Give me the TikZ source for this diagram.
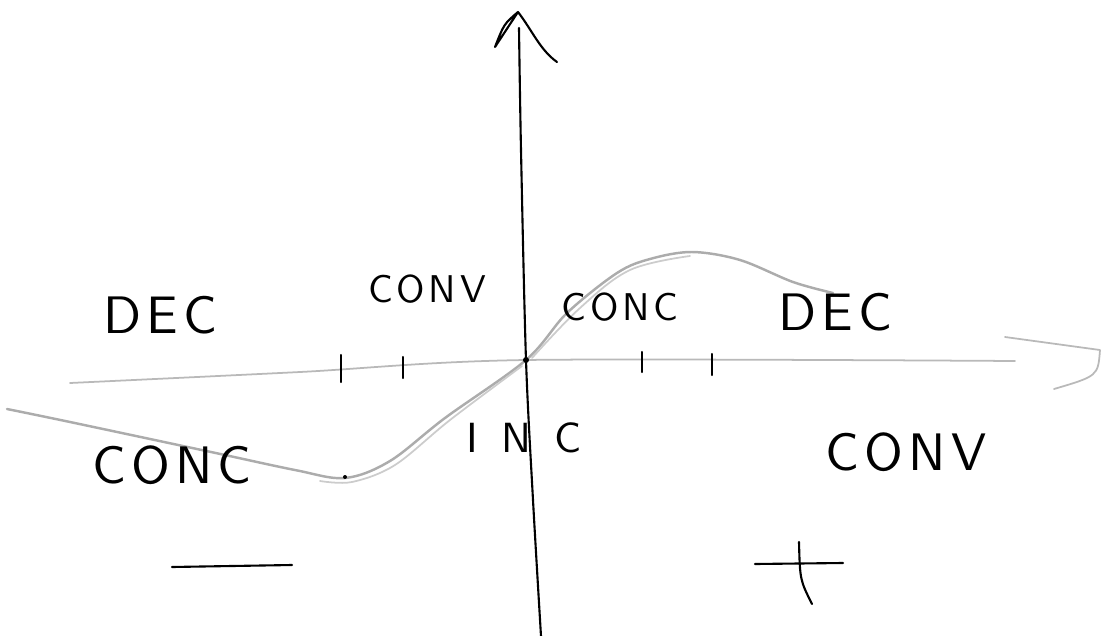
\documentclass[tikz,border=0pt]{standalone}
\usepackage{fontspec}
\newfontfamily\sketchfont{lmsans10-regular.otf}[LetterSpace=10]
\usepackage{tikz}
\usetikzlibrary{calc, positioning}

\begin{document}
\begin{tikzpicture}[x=0.01cm, y=-0.01cm,
	pen/.style={line width=0.6pt, line cap=round, line join=round},
	faint/.style={pen, gray!55, line width=0.5pt},
	big/.style={font=\sketchfont\fontsize{15}{15}\selectfont, inner sep=0pt},
	small/.style={font=\sketchfont\fontsize{11}{11}\selectfont, inner sep=0pt}]
	\useasboundingbox (0,0) rectangle (1102,636);
	% axes
	\coordinate (O) at (526,360);
	\coordinate (ytop) at (519,28);
	\coordinate (ytip) at (518,12);
	\coordinate (ybot) at (541,636);
	\coordinate (xleft) at (70,383);
	\coordinate (xright) at (1015,361);
	\coordinate (xtip) at (1100,350);
	\draw[pen] plot[smooth] coordinates {(ybot) (533,500) (O) (521,150) (ytop)};
	\draw[pen] (ytip) .. controls (504,24) .. (495,47) .. controls (506,30) .. (ytip) .. controls (532,30) and (540,50) .. (557,62);
	\draw[faint] plot[smooth] coordinates {(xleft) (300,372) (O) (xright)};
	\draw[faint] (1005,337) -- (xtip) .. controls (1098,376) .. (1054,389);
	\foreach \x/\a/\b in {341/355/382, 403/357/378, 642/352/372, 712/354/375}{\draw[pen] (\x,\a) -- (\x,\b);}
	% graph
	\draw[faint, gray!65, line width=0.7pt] plot[smooth, tension=0.55] coordinates {(7,409) (70,422) (211,452) (295,470) (345,478) (390,461) (445,418) (O) (567,313) (617,273) (650,259) (692,252) (740,260) (793,282) (833,293)};
	\draw[faint, gray!40] plot[smooth, tension=0.55] coordinates {(320,481) (352,482) (395,465) (450,420) (522,366)};
	\draw[faint, gray!40] plot[smooth, tension=0.6] coordinates {(532,358) (580,308) (630,270) (690,256)};
	\fill (O) circle (3);
	\fill (345,477) circle (2);
	% labels
	\node[big] (decL) at (160,315) {DEC};
	\node[small] (convL) at (427,289) {CONV};
	\node[small] (concR) at (620,307) {CONC};
	\node[big] (decR) at (835,312) {DEC};
	\node[small, font=\sketchfont\fontsize{12}{12}\selectfont\addfontfeature{LetterSpace=55}] (inc) at (524,438) {INC};
	\node[big] (concL) at (172,465) {CONC};
	\node[big] (convR) at (906,452) {CONV};
	% signs
	\draw[pen] (172,567) -- (292,565);
	\draw[pen] (755,564) -- (843,563);
	\draw[pen] (799,542) .. controls (800,580) .. (812,604);
\end{tikzpicture}
\end{document}
